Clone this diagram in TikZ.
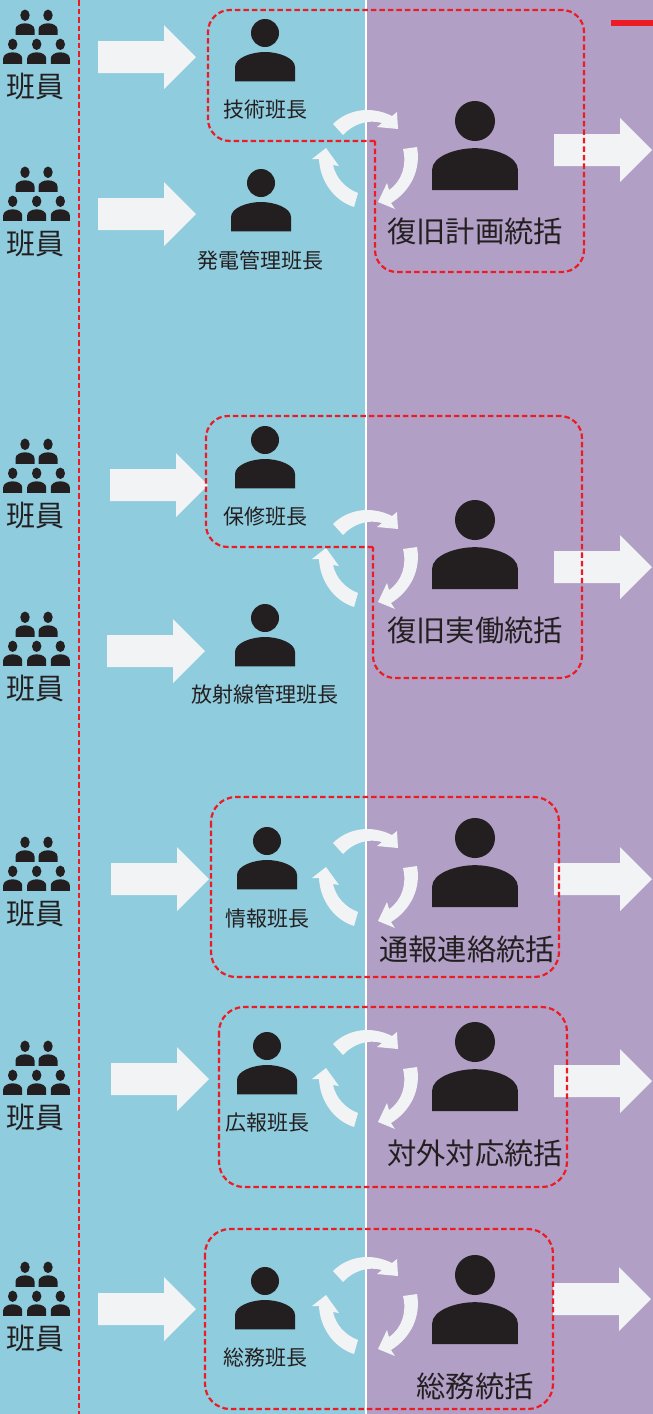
\documentclass[tikz,border=0pt]{standalone}
\usepackage{fontspec}
\setmainfont{Noto Sans CJK JP}
\definecolor{bgblue}{HTML}{8FCCDD}
\definecolor{bgpurple}{HTML}{B19FC6}
\definecolor{ink}{HTML}{231F20}
\definecolor{arrowwhite}{HTML}{F1F3F5}
\definecolor{dashred}{HTML}{ED1C24}
\tikzset{
    grouplabel/.style={text=ink,inner sep=0pt,font=\fontsize{29}{32}\selectfont},
    smalllabel/.style={text=ink,inner sep=0pt,font=\fontsize{21}{24}\selectfont},
    biglabel/.style={text=ink,inner sep=0pt,font=\fontsize{29.3}{32}\selectfont},
    redarea/.style={draw=dashred,line width=2.2pt,dash pattern=on 5.5pt off 3pt},
    pics/person/.style={code={
        \fill[ink] (0,0) circle [radius=14pt];
        \fill[ink] (-30,48.3) -- (-30,34) .. controls (-30,25) and (-14,19) .. (0,19)
            .. controls (14,19) and (30,25) .. (30,34) -- (30,48.3) -- cycle;
    }},
    pics/member/.style={code={
        \fill[ink] (0,0) ellipse [x radius=4.7pt,y radius=5.7pt];
        \fill[ink] (-9.5,19.6) -- (-9.5,14) .. controls (-9.5,10.5) and (-5,8) .. (0,8)
            .. controls (5,8) and (9.5,10.5) .. (9.5,14) -- (9.5,19.6) -- cycle;
    }},
    pics/members/.style={code={
        \pic at (25,15.3) {member};
        \pic at (48,15.3) {member};
        \pic at (12.7,44.3) {member};
        \pic at (36.7,44.3) {member};
        \pic at (60.3,44.3) {member};
    }},
    pics/bigarrow/.style={code={
        \fill[arrowwhite] (0,-16) -- (66,-16) -- (66,-32) -- (98,0) -- (66,32) -- (66,16) -- (0,16) -- cycle;
    }},
    pics/cycle/.style={code={
        % top, right and left arcs, y measured from the first row
        \fill[arrowwhite] (333,124) .. controls (347,110) and (370,105) .. (392,116) -- (397,112)
            -- (398,129) -- (377,127) -- (382,123) .. controls (368,119) and (353,124) .. (343,135) -- cycle;
        \fill[arrowwhite] (417,147) .. controls (421,168) and (412,190) .. (391,203) -- (395,209)
            -- (378,202) -- (387,183) -- (389,190) .. controls (402,181) and (407,165) .. (403,149) -- cycle;
        \fill[arrowwhite] (358,193) .. controls (345,188) and (336,178) .. (333,165) -- (339,166)
            -- (326,148) -- (312,159) -- (319,159) .. controls (320,182) and (335,201) .. (354,207) -- cycle;
    }}
}
\begin{document}
\begin{tikzpicture}[x=1pt,y=-1pt]
    \useasboundingbox (0,0) rectangle (653,1414);
    \fill[bgblue] (0,0) rectangle (366,1414);
    \fill[bgpurple] (366,0) rectangle (653,1414);
    \draw[white,line width=1.5pt] (366,0) -- (366,1414);
    \draw[redarea] (79,0) -- (79,1414);
    \fill[dashred] (611,20) rectangle (653,26);

    % members on the left
    \foreach \off/\name in {0/a,157/b,429/c,602/d,827/e,1031/f,1252/g}{
        \pic at (0,\off) {members};
        \node[grouplabel] (group\name) at (35.5,86+\off) {班員};
    }

    % arrows
    \foreach \x/\y in {98/57,98/214,110/485,107/651,111/879,111/1079,98/1309,554/150,554/567,554/879,554/1081,553/1299}{
        \pic at (\x,\y) {bigarrow};
    }

    % cycles
    \foreach \off in {0,400,719,920,1147}{
        \pic at (0,\off) {cycle};
    }

    % section leaders
    \pic at (265,33) {person};
    \node[smalllabel] (gijutsu) at (265,109.5) {技術班長};
    \pic at (261,183) {person};
    \node[smalllabel] (hatsuden) at (260.5,260.5) {発電管理班長};
    \pic at (265,440) {person};
    \node[smalllabel] (hoshu) at (265,516.5) {保修班長};
    \pic at (265,618) {person};
    \node[smalllabel] (hoshasen) at (265,694.5) {放射線管理班長};
    \pic at (267,841) {person};
    \node[smalllabel] (joho) at (267,918.5) {情報班長};
    \pic at (267,1046) {person};
    \node[smalllabel] (koho) at (267,1122.5) {広報班長};
    \pic at (265,1281) {person};
    \node[smalllabel] (somu) at (265,1357.5) {総務班長};

    % managers
    \pic[scale=1.43] at (475,121) {person};
    \node[biglabel] (keikaku) at (475,231) {復旧計画統括};
    \pic[scale=1.43] at (475,520) {person};
    \node[biglabel] (jitsudo) at (475,630) {復旧実働統括};
    \pic[scale=1.43] at (475,838) {person};
    \node[biglabel] (tsuho) at (467,949) {通報連絡統括};
    \pic[scale=1.43] at (475,1042) {person};
    \node[biglabel] (taigai) at (475,1153) {対外対応統括};
    \pic[scale=1.43] at (475,1275) {person};
    \node[biglabel] (somutokatsu) at (475,1386) {総務統括};

    % dashed areas
    \draw[redarea,rounded corners=22pt] (375,141) -- (208,141) -- (208,10) -- (584,10) -- (584,272) -- (375,272) -- (375,141);
    \draw[redarea,rounded corners=22pt] (373,547) -- (206,547) -- (206,416) -- (582,416) -- (582,678) -- (373,678) -- (373,547);
    \draw[redarea,rounded corners=25pt] (211,797) rectangle (559,977);
    \draw[redarea,rounded corners=25pt] (219,1007) rectangle (567,1187);
    \draw[redarea,rounded corners=25pt] (205,1229) rectangle (553,1409);
\end{tikzpicture}
\end{document}
